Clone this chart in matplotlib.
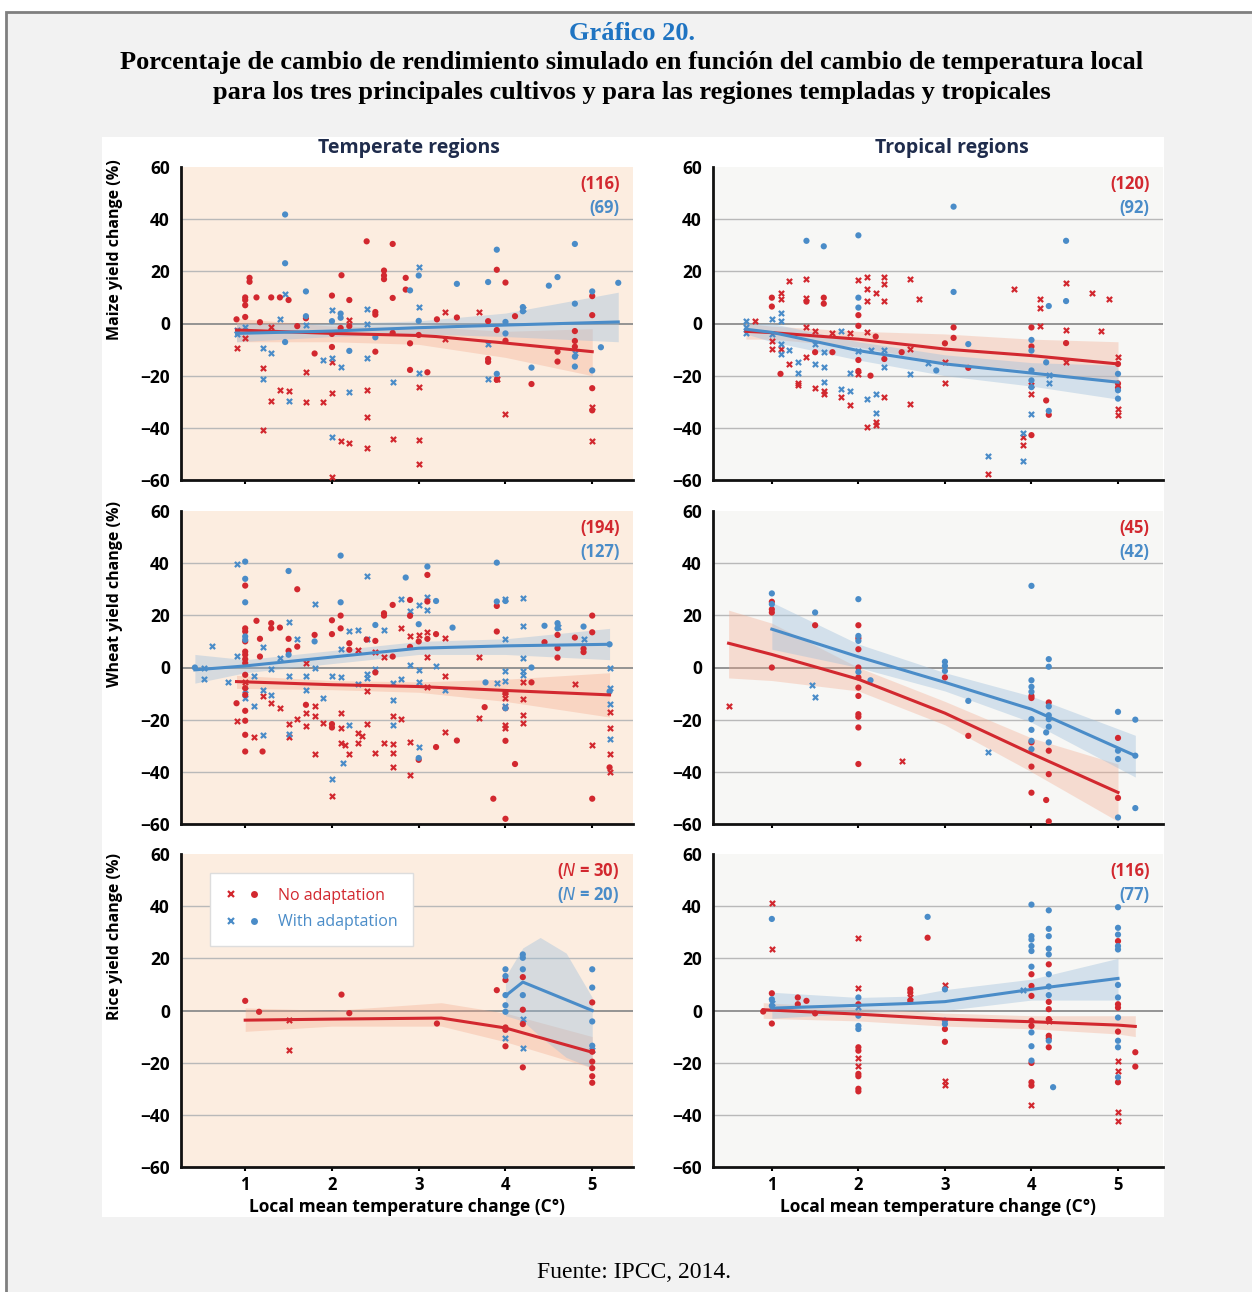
import numpy as np
import matplotlib
matplotlib.use('Agg')
import matplotlib.pyplot as plt
from matplotlib.lines import Line2D
from matplotlib.patches import Rectangle
from matplotlib.legend_handler import HandlerTuple

plt.rcParams['font.family'] = ['Open Sans', 'DejaVu Sans']

RED = '#d2282f'
BLUE = '#4a8cc8'
PEACH = '#fcede0'
LIGHT = '#f7f7f5'

# ---------------- datos ----------------
# Maize, temperate
mt_no_x = [(0.9, -9.5), (1.0, -5.7), (1.2, -17.1), (1.2, -41), (1.3, -1.4), (1.3, -29.8), (1.4, -25.4),
           (1.5, -25.8), (1.7, -18.5), (1.7, -30), (1.9, -30.1), (2.0, -26.7), (2.0, -14.6), (2.0, -59),
           (2.1, -45), (2.2, -45.7), (2.2, 1.5), (2.4, -25.4), (2.4, -35.8), (2.4, -47.6), (2.7, -44.2),
           (3.0, -24.4), (3.0, -44.7), (3.0, -54), (3.3, 4.4), (3.3, -6), (3.7, 4.4), (3.9, -21.3),
           (4.0, -34.7), (5.0, -32), (5.0, -45.2)]
mt_no_o = [(0.9, 1.6), (1.0, 10), (1.0, 9), (1.0, 7), (1.0, 2.5), (1.05, 17.5), (1.05, 16), (1.13, 10),
           (1.17, 0.5), (1.3, 10), (1.4, 10), (1.5, 9), (1.6, -1), (1.7, 2), (1.8, -11.5), (2.0, 10.7),
           (2.0, -9), (2.0, -4), (2.11, 18.5), (2.1, -1.7), (2.2, 9), (2.2, -1), (2.4, 31.5), (2.5, 4.4),
           (2.5, 3.4), (2.5, -10.8), (2.6, 20.3), (2.6, 18.4), (2.6, 17), (2.7, 30.5), (2.7, 9.8),
           (2.7, -3.6), (2.85, 17.5), (2.85, 13), (2.9, -7.6), (2.9, -17.8), (3.0, -4.4), (3.1, -18.7),
           (3.21, 1.6), (3.44, 2.3), (3.8, 0.9), (3.8, -13.6), (3.8, -14.7), (3.9, 20.6), (3.9, -2.5),
           (3.9, -21.6), (4.0, 15.7), (4.0, -6.6), (4.11, 2.8), (4.3, -23.2), (4.6, -14.6), (4.6, -10.8),
           (4.8, -2.9), (4.8, -6.7), (4.8, -8.9), (5.0, 10.5), (5.0, 3.2), (5.0, -24.8), (5.0, -33.3)]
mt_ad_x = [(0.9, -2.5), (0.9, -4.2), (1.0, -1.3), (1.2, -9.3), (1.2, -21.2), (1.3, -11.2), (1.4, 1.9),
           (1.46, 11.2), (1.5, -29.8), (1.7, -0.6), (1.9, -14), (2.0, 5.3), (2.0, -13.3), (2.0, -43.4),
           (2.1, -16.5), (2.2, -26.4), (2.4, 5.7), (2.4, -0.3), (2.4, -13.3), (2.7, -22.5), (3.0, 21.8),
           (3.0, 6.3), (3.0, -19), (3.8, -8), (3.8, -21.2), (4.2, 5.7), (4.8, -11.2)]
mt_ad_o = [(1.46, 41.8), (1.46, 23.1), (1.46, -7.1), (1.7, 12.3), (1.7, 2.8), (2.0, 0.9), (2.1, 3.8),
           (2.1, 2.2), (2.2, -10.5), (2.5, -5.3), (2.9, 12.7), (3.0, 18.4), (3.0, 1.0), (3.44, 15.2),
           (3.8, 15.9), (3.9, 28.3), (3.9, -19.3), (4.0, 0.6), (4.0, -3.8), (4.2, 6.3), (4.2, 4.7),
           (4.3, -16.9), (4.5, 14.5), (4.6, 17.8), (4.8, 30.5), (4.8, 7.6), (4.8, -12.7), (4.8, -16.5),
           (5.0, 12.3), (5.0, -18), (5.1, -9.1), (5.3, 15.6)]
mt_no_fit_x = [0.9, 2.0, 3.0, 3.2, 4.0, 5.0]
mt_no_fit_y = [-2.5, -3.8, -4.6, -5.0, -7.5, -10.8]
mt_no_lo = [-7, -7, -8, -9, -13, -20]
mt_no_hi = [2, -1, -1.5, -1.5, -3, -2]
mt_ad_fit_x = [0.9, 2.0, 3.0, 4.0, 5.3]
mt_ad_fit_y = [-3.8, -2.9, -1.6, -0.6, 0.6]
mt_ad_lo = [-7, -5, -4, -5, -7]
mt_ad_hi = [0, 0, 1, 4, 12]

# Maize, tropical
mp_no_x = [(0.8, 0.8), (1.0, -6.6), (1.0, -9.8), (1.1, 11.8), (1.1, 9.5), (1.1, -9.8), (1.2, 16.3),
           (1.2, -15.5), (1.3, -22.9), (1.3, -23.7), (1.4, 16.9), (1.4, 9.9), (1.4, -1.5), (1.4, -13),
           (1.5, -2.8), (1.5, -24.6), (1.6, -26.9), (1.6, -25.9), (1.7, -3.8), (1.8, -28.2), (1.9, -3.8),
           (1.9, -31.4), (2.0, 16.6), (2.0, -19.3), (2.1, 17.8), (2.1, 13.1), (2.1, 8.6), (2.1, -3.4),
           (2.1, -39.6), (2.2, 11.8), (2.2, -37.7), (2.2, -39), (2.3, 17.8), (2.3, 15), (2.3, 8.6),
           (2.3, -28.2), (2.6, 16.9), (2.6, -9.8), (2.6, -30.7), (2.7, 9.5), (3.0, -14.9), (3.0, -22.9),
           (3.5, -57.7), (3.8, 13.1), (3.9, -46.6), (3.9, -43.4), (4.0, -23.4), (4.0, -26.9), (4.1, 9.3),
           (4.1, 6.1), (4.1, -1.1), (4.4, 15.4), (4.4, -2.5), (4.4, -14.6), (4.7, 11.8), (4.8, -2.8),
           (4.9, 9.5), (5.0, -13), (5.0, -32.6), (5.0, -34.9)]
mp_no_o = [(1.0, 9.9), (1.0, 6.5), (1.1, -19.3), (1.4, 8.4), (1.5, -11), (1.6, 9.9), (1.6, 7.6),
           (1.7, -11), (2.0, 3.2), (2.0, -0.9), (2.0, -14), (2.0, -18.2), (2.14, -20), (2.2, -5),
           (2.3, -13.6), (2.5, -11), (3.0, -7.6), (3.1, -1.5), (3.1, -5.5), (3.27, -17), (4.0, -8.8),
           (4.0, -1.5), (4.0, -42.8), (4.17, -29.5), (4.2, -35), (4.4, -7.5), (5.0, -15.5), (5.0, -24.6),
           (5.0, -23)]
mp_ad_x = [(0.7, 1), (0.7, -1.5), (0.7, -3.8), (1.0, 1.7), (1.0, -4), (1.1, 4.2), (1.1, 1), (1.1, -7.9),
           (1.1, -11.7), (1.2, -10.2), (1.3, -14.6), (1.3, -19), (1.5, -7.9), (1.5, -15.5), (1.6, -11),
           (1.6, -16.8), (1.6, -22.5), (1.8, -2.8), (1.8, -25), (1.9, -19), (1.9, -25.9), (2.0, -10.4),
           (2.1, -28.8), (2.2, -26.9), (2.2, -34.5), (2.14, -10.2), (2.3, -10.2), (2.3, -16.8),
           (2.6, -19.3), (2.8, -15), (3.5, -50.8), (3.9, -52.6), (3.9, -41.9), (4.0, -34.8), (4.2, -22.9),
           (4.2, -19.6)]
mp_ad_o = [(1.4, 31.7), (1.6, 29.6), (2.0, 33.8), (2.0, 9.9), (2.0, 6.1), (3.1, 44.8), (3.1, 12.1),
           (2.9, -18), (3.27, -7.9), (4.0, -6.3), (4.0, -10.4), (4.0, -18), (4.0, -24.4), (4.0, -21.8),
           (4.2, 6.7), (4.17, -14.9), (4.2, -33.5), (4.4, 31.7), (4.4, 8.6), (5.0, -19.3), (5.0, -28.8),
           (5.0, -25.6)]
mp_no_fit_x = [0.7, 1.0, 2.0, 3.0, 4.0, 5.0]
mp_no_fit_y = [-3.0, -3.5, -6.0, -9.8, -12.3, -15.5]
mp_no_lo = [-6, -6, -9, -15, -18, -23]
mp_no_hi = [0, -1, -3, -4, -6, -7]
mp_ad_fit_x = [0.7, 1.0, 2.0, 3.0, 4.0, 5.0]
mp_ad_fit_y = [-2.2, -3.4, -10.4, -15.5, -19.0, -22.5]
mp_ad_lo = [-4, -7, -14, -20, -24, -29]
mp_ad_hi = [0, 0, -7, -12, -15, -16]

# Wheat, temperate
wt_no_x = [(0.9, -20.4), (1.0, -5.4), (1.1, -26.6), (1.2, -11.1), (1.3, -13.7), (1.4, -15.6), (1.5, -21.7),
           (1.5, -26.8), (1.6, -19.7), (1.7, 1.7), (1.7, -17.5), (1.7, -22.3), (1.8, -14.7), (1.8, -18.5),
           (1.8, -33.1), (1.9, -21.3), (2.0, -49.4), (2.1, -17.5), (2.1, -29), (2.1, -23.2), (2.15, -29.6),
           (2.2, -33.1), (2.3, 6.8), (2.3, -25.2), (2.3, -29), (2.35, -26.2), (2.4, -8.9), (2.4, -21.7),
           (2.5, 6.1), (2.5, -32.8), (2.6, 4.2), (2.6, -29), (2.7, -18.5), (2.7, -29.4), (2.7, -32.8),
           (2.7, -38.2), (2.8, 15.3), (2.8, -19.7), (2.9, 11.9), (2.9, -28.4), (2.9, -41.1), (3.0, 12.5),
           (3.1, 13.8), (3.1, 4), (3.1, -7.3), (3.3, 11.2), (3.3, -3.4), (3.3, -24.9), (3.7, 4),
           (3.7, -19.2), (4.0, -9.5), (4.0, -11.7), (4.0, -22), (4.0, -23.2), (4.2, -5.4), (4.2, -12),
           (4.2, -18.1), (4.2, -21.3), (4.8, -6.3), (5.0, -29.6), (5.2, -17.2), (5.2, -23.2), (5.2, -33.2),
           (5.2, -40.1)]
wt_no_o = [(1.0, 31.4), (1.0, 15), (1.0, 13.8), (1.0, 10), (1.0, 6.1), (1.0, 4.9), (1.0, 3.2), (1.0, 1.7),
           (1.0, -2.8), (1.0, -7.9), (1.0, -10.5), (1.0, -16.6), (1.0, -20.4), (1.0, -25.8), (1.0, -32.2),
           (0.9, -13.7), (1.13, 17.9), (1.17, 11), (1.17, 4.2), (1.2, -32.2), (1.3, 17), (1.3, 15),
           (1.4, 15.3), (1.5, 11), (1.5, 6.4), (1.6, 30), (1.6, 8), (1.7, -14.3), (1.8, 12.5), (2.0, 18.1),
           (2.0, 12.8), (2.0, -21.7), (2.0, -23), (2.1, 19.9), (2.1, 15), (2.2, 9.3), (2.2, 6.8),
           (2.4, 10.7), (2.5, 10.2), (2.5, -1.9), (2.6, 20.8), (2.6, 19.9), (2.7, 24), (2.7, 4.2),
           (2.9, 25.9), (2.9, 19.8), (2.9, 7.9), (3.0, 10), (3.0, -35.4), (3.1, 35.5), (3.1, 25.3),
           (3.1, 11), (3.2, 12.8), (3.2, -30.5), (3.44, -28), (3.76, -15.2), (3.86, -50.3), (3.9, 23.6),
           (3.9, 13.8), (4.0, -9.8), (4.0, -15.6), (4.0, -28.1), (4.0, -58), (4.11, -37), (4.3, -5.7),
           (4.45, 9.7), (4.6, 12.5), (4.6, 7.4), (4.6, 3.8), (4.8, 11.5), (4.9, 7.2), (4.9, 5.9),
           (5.0, 19.9), (5.0, 13.5), (5.0, -50.3), (5.2, -38.3)]
wt_ad_x = [(0.52, 0), (0.52, -4.5), (0.62, 8.3), (0.8, -5.4), (0.9, 39.6), (0.9, 4.5), (1.0, -8.6),
           (1.0, -11.7), (1.1, -3.4), (1.1, -14.6), (1.2, 8), (1.2, -8.6), (1.2, -25.8), (1.3, -0.5),
           (1.3, -10.5), (1.4, 3.8), (1.5, 17.6), (1.5, -3.4), (1.5, -25.5), (1.6, 11), (1.7, -3.4),
           (1.7, -8.6), (1.8, 24.3), (1.8, -0.3), (1.9, -11.7), (2.0, -3.4), (2.0, -42.7), (2.1, -3.8),
           (2.1, 7.2), (2.13, -36.7), (2.2, 14), (2.2, -22), (2.3, 14.4), (2.3, -6.4), (2.4, 34.9),
           (2.4, 11), (2.4, -2.4), (2.4, -4.1), (2.5, -0.5), (2.6, 14.4), (2.7, -6), (2.7, -12.4),
           (2.7, -22), (2.8, 26.3), (2.8, -4.3), (2.9, 21.5), (2.9, 0.8), (3.0, 24), (3.0, -1.1),
           (3.0, -5.4), (3.0, -30.3), (3.1, 27.2), (3.1, 22.1), (3.2, 0.4), (3.3, -8.6), (3.9, -6),
           (4.0, 10.9), (4.0, -1.5), (4.0, -5.1), (4.0, -14.7), (4.0, 26.3), (4.2, 26.8), (4.2, 16),
           (4.2, 3.8), (4.2, -1.5), (4.2, -2.8), (4.6, 15.7), (4.9, 11), (5.2, 0), (5.2, -7.7),
           (5.2, -14), (5.2, -27.3)]
wt_ad_o = [(0.42, 0), (1.0, 40.6), (1.0, 34), (1.0, 25), (1.0, 11.9), (1.0, 10.6), (1.5, 37), (1.5, 4.9),
           (1.8, 10), (2.1, 42.9), (2.1, 25), (2.5, 16.3), (2.85, 34.5), (3.0, 16.6), (3.0, -34.7),
           (3.1, 38.7), (3.2, 25.5), (3.39, 15.3), (3.77, -5.7), (3.9, 40.2), (3.9, 25.3), (4.0, 25.5),
           (4.0, -15.6), (4.3, 0), (4.45, 16), (4.6, 17), (4.6, 15), (4.9, 15.7), (5.2, 8.9), (5.2, -9.2)]
wt_no_fit_x = [0.9, 2.0, 3.0, 4.0, 5.2]
wt_no_fit_y = [-5.4, -6.6, -7.3, -8.8, -10.5]
wt_no_lo = [-8, -8.5, -9.5, -13, -19]
wt_no_hi = [-3, -5, -5.5, -4.5, -2]
wt_ad_fit_x = [0.42, 1.0, 2.0, 3.0, 4.0, 5.2]
wt_ad_fit_y = [-0.9, 0.6, 4.0, 7.4, 8.3, 8.9]
wt_ad_lo = [-6, -2, 1.5, 5, 5, 3]
wt_ad_hi = [5, 3, 6.5, 10, 11, 15]

# Wheat, tropical
wp_no_x = [(0.5, -14.8), (2.5, -35.8)]
wp_no_o = [(1.0, 25.2), (1.0, 22.3), (1.0, 21.1), (1.0, 0), (1.5, 16.2), (2.0, 16.2), (2.0, 11.2),
           (2.0, 7), (2.0, 0), (2.0, -3.8), (2.0, -7.7), (2.0, -10.9), (2.0, -17.9), (2.0, -18.9),
           (2.0, -23), (2.0, -37), (3.0, -3.8), (3.27, -26.2), (4.0, -10.9), (4.0, -11.7), (4.0, -28.7),
           (4.0, -38), (4.0, -48), (4.17, -50.8), (4.2, -13.4), (4.2, -31.9), (4.2, -40.9), (4.2, -59),
           (5.0, -27), (5.0, -50)]
wp_ad_x = [(1.46, -6.6), (1.5, -11.2), (3.5, -32.3)]
wp_ad_o = [(1.0, 28.4), (1.0, 24.3), (1.5, 21.1), (2.0, 26.2), (2.0, 12.1), (2.0, 10.2), (2.0, -1.7),
           (2.14, -4.9), (3.0, 2.2), (3.0, 0.6), (3.0, -1.3), (3.27, -12.8), (4.0, 31.3), (4.0, -4.9),
           (4.0, -7.4), (4.0, -9.3), (4.0, -19.8), (4.0, -23.9), (4.0, -28.1), (4.0, -31.3), (4.2, 3.2),
           (4.2, 0.3), (4.2, -14.9), (4.2, -18.3), (4.2, -19.8), (4.2, -22.7), (4.17, -24.9), (4.2, -28.7),
           (5.0, -17), (5.0, -31.9), (5.0, -35.1), (5.0, -57.5), (5.2, -20), (5.2, -33.8), (5.2, -53.9)]
wp_no_fit_x = [0.5, 1.0, 2.0, 3.0, 4.0, 5.0]
wp_no_fit_y = [9.3, 5.0, -4.5, -17.5, -33.0, -47.9]
wp_no_lo = [-4, -5, -9, -22, -40, -59]
wp_no_hi = [22, 17, 0, -13, -27, -37]
wp_ad_fit_x = [1.0, 2.0, 3.0, 4.0, 5.2]
wp_ad_fit_y = [14.7, 4.1, -5.7, -16.0, -33.8]
wp_ad_lo = [7, 0, -9, -21, -42]
wp_ad_hi = [25, 9, -2, -11, -26]

# Rice, temperate
rt_no_x = [(1.5, -3.7), (1.5, -15)]
rt_no_o = [(1.0, 3.7), (1.16, -0.5), (2.11, 6.1), (2.2, -1), (3.21, -5), (3.9, 7.8), (4.0, 11.7),
           (4.0, -6.5), (4.0, -7.4), (4.0, -13.7), (4.2, 12.8), (4.2, 0.3), (4.2, -5.2), (4.2, -21.8),
           (5.0, 3.1), (5.0, -19.6), (5.0, -22.1), (5.0, -25.2), (5.0, -27.7), (5.0, -15.8)]
rt_ad_x = [(4.0, -10.6), (4.2, -3.3), (4.2, -14.4), (5.0, -15)]
rt_ad_o = [(4.0, 15.8), (4.0, 13.2), (4.0, 5.9), (4.0, 2), (4.0, -0.5), (4.2, 21.5), (4.2, 20.2),
           (4.2, 15.8), (4.2, 5.9), (5.0, 15.8), (5.0, 8.8), (5.0, -4.2), (5.0, -13.5)]
rt_no_fit_x = [1.0, 2.0, 3.26, 4.0, 5.0]
rt_no_fit_y = [-3.7, -3.3, -2.9, -6.7, -16.0]
rt_no_lo = [-8, -6, -6, -12, -22]
rt_no_hi = [1, 0, 3, -1, -10]
rt_ad_fit_x = [4.0, 4.2, 5.0]
rt_ad_fit_y = [5.6, 10.9, 0.0]
rt_ad_band_x = [4.0, 4.2, 4.4, 4.7, 5.0]
rt_ad_lo = [-2, -4, -10, -18, -22]
rt_ad_hi = [13, 24, 28, 22, 5]

# Rice, tropical
rp_no_x = [(1.0, 41.2), (1.0, 23.7), (2.0, 27.9), (2.0, 8.8), (2.0, -18.2), (2.0, -21.1), (2.6, 5.3),
           (3.0, 9.7), (3.0, -27.2), (3.0, -28.5), (4.0, -36.4), (4.2, -3.9), (5.0, -19.2), (5.0, -23.3),
           (5.0, -38.9), (5.0, -42.5)]
rp_no_o = [(0.9, -0.4), (1.0, 6.6), (1.0, -5), (1.3, 5), (1.3, 2.4), (1.4, 3.7), (1.5, -1.1), (2.0, 2.4),
           (2.0, -14.1), (2.0, -15.4), (2.0, -24.3), (2.0, -25.2), (2.0, -30), (2.0, -31), (2.6, 8.1),
           (2.6, 6.9), (2.6, 3.7), (2.8, 27.9), (3.0, -7.1), (3.0, -12), (4.0, 13.9), (4.0, 9.4),
           (4.0, 5.6), (4.0, -3.9), (4.0, -5.9), (4.0, -20.1), (4.0, -27.5), (4.0, -28.8), (4.2, 17.7),
           (4.2, 3.3), (4.2, 0.5), (4.2, -3.3), (4.2, -9.7), (4.2, -10.7), (4.2, -14.1), (5.0, 26.6),
           (5.0, 2.4), (5.0, 1.1), (5.0, -8.1), (5.0, -27.5), (5.2, -16), (5.2, -21.5)]
rp_ad_x = [(3.9, 7.9), (2.0, 1.5), (1.0, 3.0)]
rp_ad_o = [(1.0, 35.1), (1.0, 4.3), (1.0, 1.8), (2.0, 5), (2.0, -2), (2.0, -5.9), (2.0, -7.1),
           (2.8, 35.9), (3.0, 8.1), (3.0, -3.9), (3.0, -5.2), (4.0, 40.6), (4.0, 28.5), (4.0, 27.2),
           (4.0, 24.7), (4.0, 22.8), (4.0, 16.8), (4.0, -8.4), (4.0, -13.7), (4.0, -19.2), (4.2, 38.4),
           (4.2, 31.3), (4.2, 28.5), (4.2, 23.7), (4.2, 21.5), (4.2, 13.9), (4.2, 9.2), (4.2, 5.9),
           (4.2, -11.6), (4.25, -29.4), (5.0, 39.6), (5.0, 31.7), (5.0, 29.1), (5.0, 24.7), (5.0, 23.4),
           (5.0, 9.8), (5.0, 5), (5.0, -2.7), (5.0, -11.6), (5.0, -14.1), (5.0, -25.6)]
rp_no_fit_x = [0.9, 2.0, 3.0, 4.0, 5.0, 5.2]
rp_no_fit_y = [0.3, -1.4, -3.3, -4.3, -5.6, -6.1]
rp_no_lo = [-3, -4, -6, -7, -9, -10]
rp_no_hi = [3, 1, -1, -2, -2, -2]
rp_ad_fit_x = [1.0, 2.0, 2.6, 3.0, 4.0, 5.0]
rp_ad_fit_y = [0.9, 2.0, 2.7, 3.4, 8.1, 12.3]
rp_ad_lo = [-3, -1, 0, 0, 4, 4]
rp_ad_hi = [7, 5, 5.5, 8, 12, 20]

n_labels = [("(116)", "(69)"), ("(120)", "(92)"),
            ("(194)", "(127)"), ("(45)", "(42)"),
            (r"($\it{N}$ = 30)", r"($\it{N}$ = 20)"), ("(116)", "(77)")]
ylabels = ["Maize yield change (%)", "Wheat yield change (%)", "Rice yield change (%)"]
col_titles = ["Temperate regions", "Tropical regions"]
subtitle = ["Porcentaje de cambio de rendimiento simulado en función del cambio de temperatura local",
            "para los tres principales cultivos y para las regiones templadas y tropicales"]


def pts(lst):
    a = np.array(lst, dtype=float)
    return a[:, 0], a[:, 1]


def panel(ax, bg, no_x, no_o, ad_x, ad_o, no_fit, ad_fit, no_band, ad_band, labels, xlim, bottom):
    ax.set_facecolor(bg)
    ax.set_xlim(*xlim)
    ax.set_ylim(-60, 60)
    for g in [-40, -20, 20, 40]:
        ax.axhline(g, color='#b9b9b9', lw=1, zorder=0.5)
    ax.axhline(0, color='#8c8c8c', lw=1.3, zorder=0.6)

    # bandas de confianza
    ax.fill_between(no_band[0], no_band[1], no_band[2], color='#f4a98c', alpha=0.35, lw=0, zorder=1)
    ax.fill_between(ad_band[0], ad_band[1], ad_band[2], color='#9dbfdc', alpha=0.4, lw=0, zorder=1.1)

    x, y = pts(no_x)
    ax.scatter(x, y, marker='x', s=14, linewidths=1.6, color=RED, zorder=3)
    x, y = pts(ad_x)
    ax.scatter(x, y, marker='x', s=14, linewidths=1.6, color=BLUE, zorder=3)
    x, y = pts(no_o)
    ax.scatter(x, y, marker='o', s=20, color=RED, edgecolors='none', zorder=3)
    x, y = pts(ad_o)
    ax.scatter(x, y, marker='o', s=20, color=BLUE, edgecolors='none', zorder=3)

    ax.plot(no_fit[0], no_fit[1], color=RED, lw=2.2, zorder=4)
    ax.plot(ad_fit[0], ad_fit[1], color=BLUE, lw=2.2, zorder=4)

    for s in ['top', 'right']:
        ax.spines[s].set_visible(False)
    for s in ['left', 'bottom']:
        ax.spines[s].set_linewidth(2)
        ax.spines[s].set_color('#111111')
    ax.set_yticks([-60, -40, -20, 0, 20, 40, 60])
    ax.set_xticks([1, 2, 3, 4, 5])
    ax.tick_params(axis='y', length=0, pad=8, labelsize=12.5)
    ax.tick_params(axis='x', length=3, width=1.5, labelsize=12)
    for lab in ax.get_yticklabels() + ax.get_xticklabels():
        lab.set_fontweight('bold')
    if not bottom:
        ax.set_xticklabels([])
    else:
        ax.set_xlabel("Local mean temperature change (C°)", fontsize=12.5, fontweight='bold', labelpad=3)

    ax.text(0.97, 0.945, labels[0], transform=ax.transAxes, ha='right', va='center',
            color=RED, fontsize=12, fontweight='bold')
    ax.text(0.97, 0.868, labels[1], transform=ax.transAxes, ha='right', va='center',
            color=BLUE, fontsize=12, fontweight='bold')


fig = plt.figure(figsize=(12.52, 12.92), dpi=100)
W, H = 1252, 1292

# marco y fondo
fig.patches.append(Rectangle((6 / W, -0.01), 1.0, 1 - 12 / H + 0.01, transform=fig.transFigure,
                             facecolor='#f2f2f2', edgecolor='#7f7f7f', lw=2, zorder=-3))
fig.patches.append(Rectangle((102 / W, 1 - 1217 / H), (1164 - 102) / W, (1217 - 137) / H,
                             transform=fig.transFigure, facecolor='white', edgecolor='none', zorder=-2))

fig.text(632 / W, 1 - 33 / H, "Gráfico 20.", ha='center', va='center', color='#1f74c2',
         fontsize=19, fontweight='bold', family='Liberation Serif')
fig.text(632 / W, 1 - 62 / H, subtitle[0], ha='center', va='center', fontsize=19,
         fontweight='bold', family='Liberation Serif')
fig.text(632 / W, 1 - 93 / H, subtitle[1], ha='center', va='center', fontsize=19,
         fontweight='bold', family='Liberation Serif')
fig.text(634 / W, 1 - 1272 / H, "Fuente: IPCC, 2014.", ha='center', va='center', fontsize=17,
         family='Liberation Serif')

lefts = [181 / W, 713 / W]
widths = [(633 - 181) / W, (1163 - 713) / W]
tops = [167, 511, 854]
hts = 313

panels = [
    (mt_no_x, mt_no_o, mt_ad_x, mt_ad_o, (mt_no_fit_x, mt_no_fit_y), (mt_ad_fit_x, mt_ad_fit_y),
     (mt_no_fit_x, mt_no_lo, mt_no_hi), (mt_ad_fit_x, mt_ad_lo, mt_ad_hi)),
    (mp_no_x, mp_no_o, mp_ad_x, mp_ad_o, (mp_no_fit_x, mp_no_fit_y), (mp_ad_fit_x, mp_ad_fit_y),
     (mp_no_fit_x, mp_no_lo, mp_no_hi), (mp_ad_fit_x, mp_ad_lo, mp_ad_hi)),
    (wt_no_x, wt_no_o, wt_ad_x, wt_ad_o, (wt_no_fit_x, wt_no_fit_y), (wt_ad_fit_x, wt_ad_fit_y),
     (wt_no_fit_x, wt_no_lo, wt_no_hi), (wt_ad_fit_x, wt_ad_lo, wt_ad_hi)),
    (wp_no_x, wp_no_o, wp_ad_x, wp_ad_o, (wp_no_fit_x, wp_no_fit_y), (wp_ad_fit_x, wp_ad_fit_y),
     (wp_no_fit_x, wp_no_lo, wp_no_hi), (wp_ad_fit_x, wp_ad_lo, wp_ad_hi)),
    (rt_no_x, rt_no_o, rt_ad_x, rt_ad_o, (rt_no_fit_x, rt_no_fit_y), (rt_ad_fit_x, rt_ad_fit_y),
     (rt_no_fit_x, rt_no_lo, rt_no_hi), (rt_ad_band_x, rt_ad_lo, rt_ad_hi)),
    (rp_no_x, rp_no_o, rp_ad_x, rp_ad_o, (rp_no_fit_x, rp_no_fit_y), (rp_ad_fit_x, rp_ad_fit_y),
     (rp_no_fit_x, rp_no_lo, rp_no_hi), (rp_ad_fit_x, rp_ad_lo, rp_ad_hi)),
]

axes = []
for i, p in enumerate(panels):
    row, col = divmod(i, 2)
    ax = fig.add_axes([lefts[col], 1 - (tops[row] + hts) / H, widths[col], hts / H])
    xlim = (0.26, 5.47) if col == 0 else (0.32, 5.52)
    panel(ax, PEACH if col == 0 else LIGHT, *p, n_labels[i], xlim, row == 2)
    if col == 0:
        ax.set_ylabel(ylabels[row], fontsize=11.5, fontweight='bold')
        ax.yaxis.set_label_coords(-0.128, 0.735)
    axes.append(ax)

# títulos de columna
axes[0].text(0.505, 1.061, col_titles[0], transform=axes[0].transAxes, ha='center', va='center',
             fontsize=14, fontweight='bold', color='#1f2c4c')
axes[1].text(0.53, 1.061, col_titles[1], transform=axes[1].transAxes, ha='center', va='center',
             fontsize=14, fontweight='bold', color='#1f2c4c')

# leyenda
h_no = (Line2D([], [], ls='none', marker='x', ms=5, mew=1.6, color=RED),
        Line2D([], [], ls='none', marker='o', ms=5, mec='none', color=RED))
h_ad = (Line2D([], [], ls='none', marker='x', ms=5, mew=1.6, color=BLUE),
        Line2D([], [], ls='none', marker='o', ms=5, mec='none', color=BLUE))
leg = axes[4].legend([h_no, h_ad], ["No adaptation", "With adaptation"],
                     handler_map={tuple: HandlerTuple(ndivide=None, pad=0.7)},
                     loc='upper left', bbox_to_anchor=(0.064, 0.94), borderaxespad=0, fontsize=11.5,
                     frameon=True, fancybox=False, edgecolor='#dddddd', framealpha=1, shadow=False,
                     borderpad=0.95, handlelength=2.2, labelspacing=0.65, handletextpad=1.1)
leg.get_frame().set_linewidth(1)
leg.get_texts()[0].set_color(RED)
leg.get_texts()[1].set_color(BLUE)

fig.savefig('out.png', dpi=100)
